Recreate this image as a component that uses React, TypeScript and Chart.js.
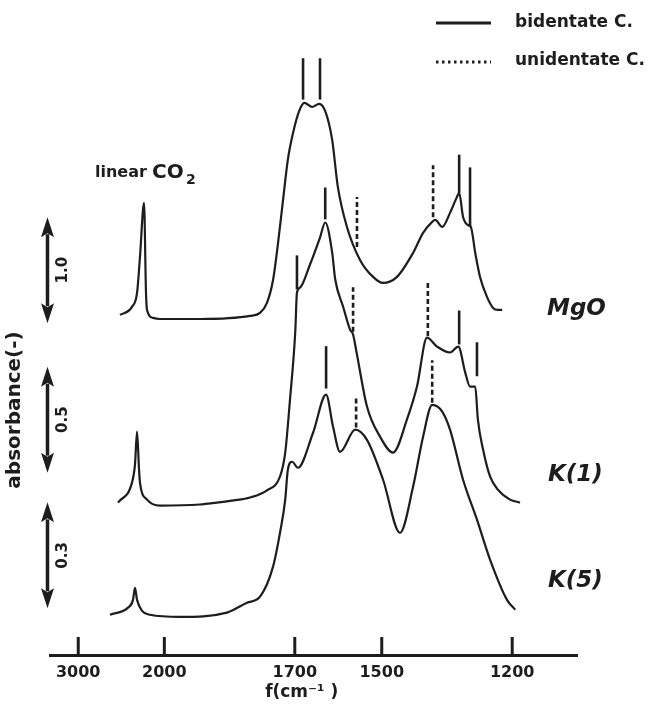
import { useEffect, useRef } from 'react';
import { Chart, registerables } from 'chart.js';

Chart.register(...registerables);

// ---------- broken wavenumber axis (above 2000 cm-1 compressed) ----------
const BREAK_WN = 2000;
const COMPRESS = 0.198;
const axisPos = (wn: number) => (wn <= BREAK_WN ? wn : BREAK_WN + (wn - BREAK_WN) * COMPRESS);

const X_TICKS = [3000, 2000, 1700, 1500, 1200];
const X_MIN_WN = 1051;
const X_MAX_WN = 3328;

// ---------- series ----------
const SERIES_NAMES = ['MgO', 'K(1)', 'K(5)'];
const SCALE_BAR = [1.0, 0.5, 0.3]; // absorbance represented by each scale arrow
const OFFSET = [3.18, 1.41, 0.38]; // vertical offset of each spectrum (scale-arrow units)

const MGO_WN = [2515, 2376, 2317, 2283, 2236, 2213, 2201, 2131, 2050, 1918, 1803, 1780, 1764, 1750, 1739, 1727, 1716, 1704, 1690, 1678, 1660, 1644, 1630, 1614, 1601, 1580, 1550, 1520, 1497, 1465, 1428, 1405, 1384, 1377, 1361, 1343, 1327, 1322, 1313, 1302, 1295, 1285, 1274, 1258, 1244, 1233, 1223];
const MGO_ABS = [0.028, 0.104, 0.236, 0.575, 1.085, 0.236, 0.075, 0.0, -0.01, -0.01, 0.019, 0.047, 0.142, 0.358, 0.689, 1.113, 1.491, 1.745, 1.95, 2.028, 1.99, 2.019, 1.95, 1.679, 1.236, 0.858, 0.547, 0.387, 0.33, 0.387, 0.613, 0.802, 0.906, 0.925, 0.858, 0.991, 1.142, 1.179, 0.953, 0.877, 0.858, 0.613, 0.387, 0.198, 0.094, 0.075, 0.075];

const K1_WN = [2538, 2376, 2341, 2317, 2294, 2283, 2201, 2050, 1918, 1879, 1840, 1803, 1764, 1734, 1722, 1711, 1699, 1695, 1688, 1665, 1642, 1630, 1614, 1607, 1589, 1573, 1566, 1557, 1534, 1504, 1474, 1442, 1419, 1396, 1373, 1343, 1324, 1308, 1297, 1285, 1279, 1267, 1251, 1233, 1205, 1182];
const K1_ABS = [0.014, 0.108, 0.193, 0.349, 0.17, 0.108, 0.028, 0, 0.005, 0.014, 0.024, 0.038, 0.072, 0.137, 0.25, 0.5, 0.816, 1.005, 1.028, 1.137, 1.264, 1.335, 1.193, 1.066, 0.939, 0.83, 0.807, 0.712, 0.467, 0.325, 0.25, 0.406, 0.561, 0.792, 0.75, 0.722, 0.75, 0.627, 0.561, 0.561, 0.406, 0.264, 0.137, 0.075, 0.028, 0.014];

const K5_WN = [2631, 2422, 2364, 2341, 2317, 2259, 2166, 1964, 1856, 1810, 1780, 1750, 1734, 1722, 1716, 1706, 1693, 1658, 1628, 1612, 1596, 1561, 1534, 1497, 1458, 1428, 1405, 1384, 1361, 1343, 1313, 1281, 1251, 1212, 1193];
const K5_ABS = [0, 0.02, 0.042, 0.076, 0.042, 0.011, 0, -0.006, 0.006, 0.034, 0.051, 0.136, 0.232, 0.326, 0.41, 0.433, 0.416, 0.515, 0.623, 0.532, 0.461, 0.524, 0.495, 0.382, 0.232, 0.362, 0.504, 0.594, 0.575, 0.524, 0.382, 0.269, 0.156, 0.042, 0.014];

const SERIES_WN = [MGO_WN, K1_WN, K5_WN];
const SERIES_ABS = [MGO_ABS, K1_ABS, K5_ABS];

// ---------- band assignment markers (absorbance units of their series) ----------
const MARK_SERIES = [0, 0, 0, 0, 0, 0, 1, 1, 1, 1, 1, 1, 2, 2, 2];
const MARK_TYPE = ['bi', 'bi', 'uni', 'uni', 'bi', 'bi', 'bi', 'bi', 'uni', 'uni', 'bi', 'bi', 'bi', 'uni', 'uni'];
const MARK_WN = [1681, 1642, 1557, 1382, 1322, 1297, 1695, 1630, 1566, 1394, 1322, 1281, 1628, 1559, 1384];
const MARK_LOW = [2.06, 2.06, 0.67, 0.95, 1.18, 0.86, 1.02, 1.35, 0.82, 0.8, 0.76, 0.61, 0.64, 0.53, 0.6];
const MARK_HIGH = [2.45, 2.45, 1.14, 1.44, 1.54, 1.42, 1.18, 1.5, 1.03, 1.05, 0.92, 0.77, 0.76, 0.62, 0.72];

const LEGEND_LABELS = ['bidentate C.', 'unidentate C.'];

// scale arrows: lower end of each arrow (scale-arrow units); each arrow is 1 unit long
const ARROW_BASE = [3.13, 1.72, 0.44];

// ---------- styles / placement ----------
const INK = '#1d1d1d';
const FAM = '"DejaVu Sans", "Liberation Sans", sans-serif';
const Y_MAX = 655 / 106;

const toDisplay = (s: number, a: number) => OFFSET[s] + a / SCALE_BAR[s];

const annotPlugin = {
  id: 'annot',
  afterDatasetsDraw(chart: any) {
    const { ctx, scales, chartArea } = chart;
    const x = scales.x;
    const y = scales.y;
    ctx.save();
    ctx.strokeStyle = INK;
    ctx.fillStyle = INK;

    // upward tick marks on the axis
    ctx.lineWidth = 3;
    ctx.lineCap = 'butt';
    X_TICKS.forEach((t) => {
      const px = x.getPixelForValue(axisPos(t));
      ctx.beginPath();
      ctx.moveTo(px, chartArea.bottom);
      ctx.lineTo(px, chartArea.bottom - 18);
      ctx.stroke();
    });

    // legend
    ctx.lineWidth = 3;
    ctx.beginPath();
    ctx.moveTo(436, 23);
    ctx.lineTo(491, 23);
    ctx.stroke();
    ctx.setLineDash([2.5, 3.5]);
    ctx.beginPath();
    ctx.moveTo(436, 62);
    ctx.lineTo(491, 62);
    ctx.stroke();
    ctx.setLineDash([]);
    ctx.font = `bold 17px ${FAM}`;
    ctx.textAlign = 'left';
    ctx.textBaseline = 'middle';
    ctx.fillText(LEGEND_LABELS[0], 515, 23);
    ctx.fillText(LEGEND_LABELS[1], 515, 61);

    // linear CO2 label
    ctx.textBaseline = 'alphabetic';
    ctx.font = `bold 16px ${FAM}`;
    ctx.fillText('linear', 95, 177);
    ctx.font = `bold 20px ${FAM}`;
    ctx.fillText('CO', 152, 178);
    ctx.font = `bold 14px ${FAM}`;
    ctx.fillText('2', 186, 184);

    // scale arrows
    const ax = 47.5;
    ARROW_BASE.forEach((b, i) => {
      const yb = y.getPixelForValue(b);
      const yt = y.getPixelForValue(b + 1);
      const hw = 6.5;
      const hh = 20;
      ctx.lineWidth = 3.5;
      ctx.beginPath();
      ctx.moveTo(ax, yt + hh - 3);
      ctx.lineTo(ax, yb - hh + 3);
      ctx.stroke();
      ctx.beginPath();
      ctx.moveTo(ax, yt);
      ctx.lineTo(ax + hw, yt + hh);
      ctx.lineTo(ax, yt + hh - 4);
      ctx.lineTo(ax - hw, yt + hh);
      ctx.closePath();
      ctx.fill();
      ctx.beginPath();
      ctx.moveTo(ax, yb);
      ctx.lineTo(ax + hw, yb - hh);
      ctx.lineTo(ax, yb - hh + 4);
      ctx.lineTo(ax - hw, yb - hh);
      ctx.closePath();
      ctx.fill();
      ctx.save();
      ctx.translate(63, (yt + yb) / 2);
      ctx.rotate(-Math.PI / 2);
      ctx.font = `bold 15px ${FAM}`;
      ctx.textAlign = 'center';
      ctx.textBaseline = 'middle';
      ctx.fillText(SCALE_BAR[i].toFixed(1), 0, 0);
      ctx.restore();
    });

    // y axis title
    ctx.save();
    ctx.translate(15, 410);
    ctx.rotate(-Math.PI / 2);
    ctx.font = `bold 20px ${FAM}`;
    ctx.textAlign = 'center';
    ctx.textBaseline = 'middle';
    ctx.fillText('absorbance(-)', 0, 0);
    ctx.restore();

    // series labels
    const labelPos = [
      [547, 309],
      [548, 475],
      [548, 581],
    ];
    ctx.font = `italic bold 23px ${FAM}`;
    ctx.textAlign = 'left';
    ctx.textBaseline = 'middle';
    SERIES_NAMES.forEach((n, i) => ctx.fillText(n, labelPos[i][0], labelPos[i][1]));

    ctx.restore();
  },
};

export default function App() {
  const ref = useRef<HTMLCanvasElement>(null);

  useEffect(() => {
    const curveSets = SERIES_NAMES.map((name, s) => ({
      label: name,
      data: SERIES_WN[s].map((wn, i) => ({ x: axisPos(wn), y: toDisplay(s, SERIES_ABS[s][i]) })),
      borderColor: INK,
      borderWidth: 2.2,
      pointRadius: 0,
      fill: false,
      cubicInterpolationMode: 'monotone' as const,
    }));
    const markerSets = MARK_WN.map((wn, i) => ({
      label: `mark${i}`,
      data: [
        { x: axisPos(wn), y: toDisplay(MARK_SERIES[i], MARK_LOW[i]) },
        { x: axisPos(wn), y: toDisplay(MARK_SERIES[i], MARK_HIGH[i]) },
      ],
      borderColor: INK,
      borderWidth: 2.6,
      borderDash: MARK_TYPE[i] === 'uni' ? [5, 3] : [],
      pointRadius: 0,
      fill: false,
    }));

    const chart = new Chart(ref.current as HTMLCanvasElement, {
      type: 'line',
      data: { datasets: [...curveSets, ...markerSets] as any },
      options: {
        animation: false,
        responsive: false,
        devicePixelRatio: 1,
        layout: { padding: { left: 50, right: 74, top: 0, bottom: 0 } },
        plugins: { legend: { display: false }, tooltip: { enabled: false } },
        scales: {
          x: {
            type: 'linear',
            reverse: true,
            min: axisPos(X_MIN_WN),
            max: axisPos(X_MAX_WN),
            afterBuildTicks: (s: any) => {
              s.ticks = X_TICKS.map((t) => ({ value: axisPos(t) }));
            },
            afterFit: (s: any) => {
              s.height = 52;
            },
            grid: { display: false, drawTicks: false },
            border: { display: true, width: 3, color: INK },
            ticks: {
              autoSkip: false,
              maxRotation: 0,
              padding: 8,
              color: INK,
              font: { family: FAM, size: 16, weight: 'bold' },
              callback: (_v: any, idx: number) => String(X_TICKS[idx]),
            },
            title: {
              display: true,
              text: 'f(cm⁻¹ )    ',
              color: INK,
              font: { family: FAM, size: 17, weight: 'bold' },
              padding: { top: 0, bottom: 4 },
            },
          },
          y: { type: 'linear', display: false, min: 0, max: Y_MAX },
        },
      } as any,
      plugins: [annotPlugin],
    });
    return () => chart.destroy();
  }, []);

  return (
    <div style={{ position: 'absolute', left: 0, top: 0, width: 651, height: 707, background: '#fff' }}>
      <canvas ref={ref} width={651} height={707} style={{ display: 'block' }} />
    </div>
  );
}
